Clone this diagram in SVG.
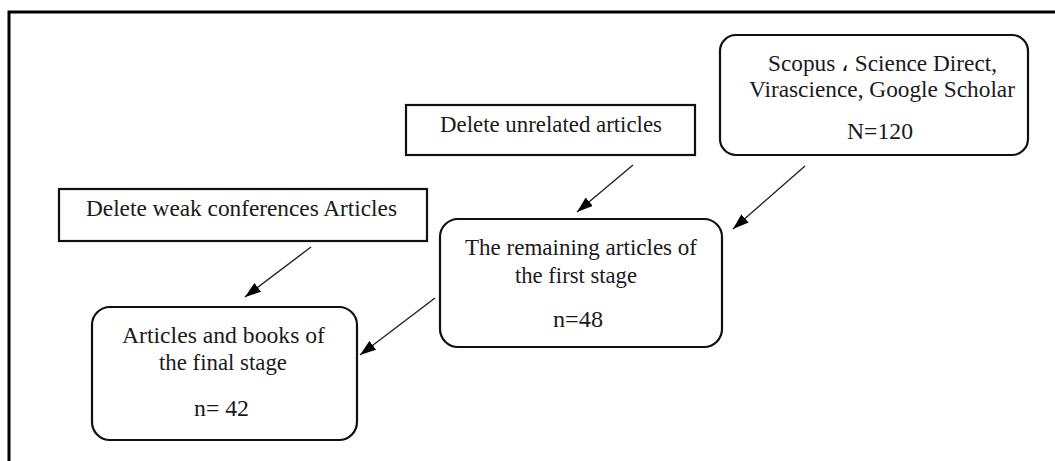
<svg xmlns="http://www.w3.org/2000/svg" width="1055" height="461" viewBox="0 0 1055 461">
<style>
.box{fill:#fff;stroke:#111;stroke-width:2.2}
.t{font-family:"Liberation Serif","Times New Roman",serif;font-size:23.5px;fill:#1a1a1a}
.c{stroke:#222;stroke-width:1.4;fill:none}
</style>
<defs>
<marker id="ah" viewBox="0 0 16 11" refX="16" refY="5.5" markerWidth="16" markerHeight="11" markerUnits="userSpaceOnUse" orient="auto">
<path d="M0,0 L16,5.5 L0,11 z" fill="#000"/>
</marker>
</defs>
<rect width="1055" height="461" fill="#fff"/>
<path d="M9,461 V12 H1055" fill="none" stroke="#000" stroke-width="3"/>
<g id="scopus">
<rect class="box" x="720" y="35" width="308" height="120" rx="16"/>
<text class="t" x="768" y="71" textLength="229" lengthAdjust="spacingAndGlyphs">Scopus ، Science Direct,</text>
<text class="t" x="749" y="97" textLength="266" lengthAdjust="spacingAndGlyphs">Virascience, Google Scholar</text>
<text class="t" x="847" y="139" textLength="66" lengthAdjust="spacingAndGlyphs">N=120</text>
</g>
<g id="unrelated">
<rect class="box" x="406" y="105" width="289" height="50"/>
<text class="t" x="440" y="132" textLength="222" lengthAdjust="spacingAndGlyphs">Delete unrelated articles</text>
</g>
<g id="weak">
<rect class="box" x="59" y="189" width="368" height="52"/>
<text class="t" x="86" y="216" textLength="311" lengthAdjust="spacingAndGlyphs">Delete weak conferences Articles</text>
</g>
<g id="remaining">
<rect class="box" x="440" y="219" width="282" height="128" rx="18"/>
<text class="t" x="465" y="255" textLength="232" lengthAdjust="spacingAndGlyphs">The remaining articles of</text>
<text class="t" x="515" y="283" textLength="122" lengthAdjust="spacingAndGlyphs">the first stage</text>
<text class="t" x="553" y="327" textLength="50" lengthAdjust="spacingAndGlyphs">n=48</text>
</g>
<g id="final">
<rect class="box" x="92" y="307" width="265" height="133" rx="18"/>
<text class="t" x="122" y="343" textLength="203" lengthAdjust="spacingAndGlyphs">Articles and books of</text>
<text class="t" x="159" y="370" textLength="128" lengthAdjust="spacingAndGlyphs">the final stage</text>
<text class="t" x="194" y="416" textLength="55" lengthAdjust="spacingAndGlyphs">n= 42</text>
</g>
<g id="connectors">
<line class="c" x1="805" y1="166" x2="733" y2="229" marker-end="url(#ah)"/>
<line class="c" x1="633" y1="165" x2="577" y2="212" marker-end="url(#ah)"/>
<line class="c" x1="311" y1="247" x2="245" y2="297" marker-end="url(#ah)"/>
<line class="c" x1="435" y1="298" x2="360" y2="355" marker-end="url(#ah)"/>
</g>
</svg>
